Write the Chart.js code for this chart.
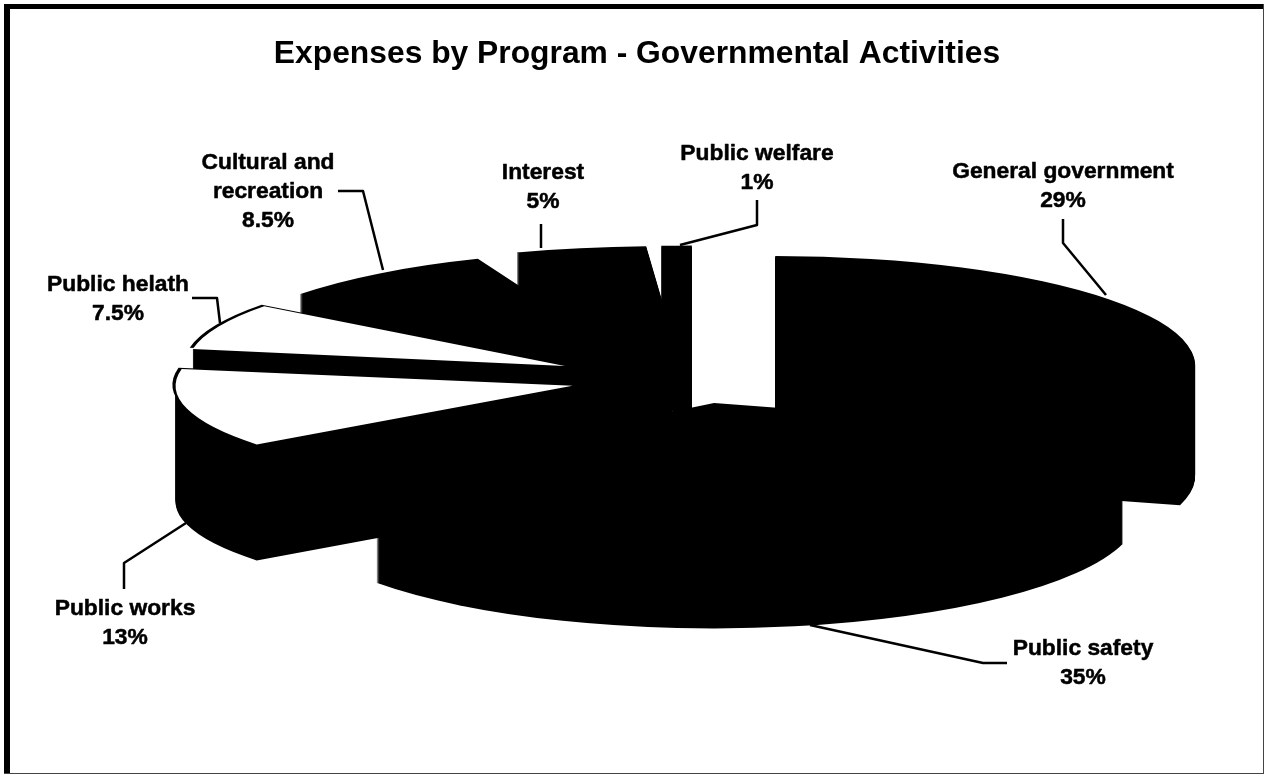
<!DOCTYPE html>
<html>
<head>
<meta charset="utf-8">
<title>Expenses by Program</title>
<style>
  html, body { margin: 0; padding: 0; background: #fff; }
  #wrap { width: 1266px; height: 775px; }
</style>
<script src="https://cdn.jsdelivr.net/npm/chart.js@4"></script>
</head>
<body>
<div id="wrap"><canvas id="chart" width="1266" height="775"></canvas></div>
<script>
const titleText = 'Expenses by Program - Governmental Activities';
const categories = ['General government', 'Public safety', 'Public works', 'Public helath', 'Cultural and recreation', 'Interest', 'Public welfare'];
const values = [29, 35, 13, 7.5, 8.5, 5, 1];
const faceColors = ['#000', '#000', '#fff', '#fff', '#000', '#000', '#000'];

// Where each slice's caption sits: line breaks, centre x, first line y
const captionLines = [['General government'], ['Public safety'], ['Public works'], ['Public helath'], ['Cultural and', 'recreation'], ['Interest'], ['Public welfare']];
const captionSpots = [[1063, 172], [1083, 649], [125, 609], [118, 285], [268, 163], [543, 173], [757, 154]];
// Leader line from caption to slice rim
const leaders = [
  [[1063, 219], [1063, 243], [1106, 295]],
  [[1007, 663], [983, 663], [810, 625]],
  [[124, 589], [124, 563], [186, 523]],
  [[192, 298], [217, 298], [220, 323]],
  [[338, 191], [363, 191], [383, 270]],
  [[541, 224], [541, 248]],
  [[757, 200], [757, 225], [680, 245]]
];

// Projection of the flat pie into a tilted, exploded disc
const DISC = { cx: 695, cy: 381, rx: 420, ry: 110 };
// Per-slice perspective adjustments, in slice order
const sliceExplode = [0.24, 0.24, 0.30, 0.338, 0.24, 0.24, 0.24];
const sliceScaleX  = [1, 1.01, 0.945, 0.9, 1, 1, 1.15];
const sliceScaleY  = [1, 1.05, 0.88, 0.9, 1, 0.83, 1];
const sliceLift    = [1, -4, -3, 0, 1, -18, 1];
const sliceDepth   = [110, 110, 116, 110, 110, 110, 125];

const LABEL_FONT = 'bold 22.8px "Liberation Sans", Arial, sans-serif';
const LINE_GAP = 29;

function drawArcProjected(ctx, arc, i, drop, grow) {
  const R = arc.outerRadius;
  const mid = (arc.startAngle + arc.endAngle) / 2;
  ctx.save();
  ctx.translate(
    DISC.cx + Math.cos(mid) * sliceExplode[i] * DISC.rx,
    DISC.cy + Math.sin(mid) * sliceExplode[i] * DISC.ry + sliceLift[i] + drop
  );
  ctx.scale(DISC.rx / R * sliceScaleX[i] * grow, DISC.ry / R * sliceScaleY[i] * grow);
  ctx.translate(-arc.x, -arc.y);
  arc.draw(ctx);
  ctx.restore();
}

const tiltedPie = {
  id: 'tiltedPie',
  beforeDatasetsDraw(chart) {
    const ctx = chart.ctx;
    const arcs = chart.getDatasetMeta(0).data.map((arc, i) => ({ arc, i }));
    // Paint rear slices first so nearer walls overlap them
    arcs.sort((a, b) => Math.sin((a.arc.startAngle + a.arc.endAngle) / 2) - Math.sin((b.arc.startAngle + b.arc.endAngle) / 2));
    arcs.forEach(({ arc, i }) => {
      const face = arc.options;
      const wall = Object.create(face);
      wall.backgroundColor = '#000';
      wall.borderColor = '#000';
      arc.options = wall;
      for (let d = sliceDepth[i]; d > 0; d--) drawArcProjected(ctx, arc, i, d, 1);
      // Dark rim line around the pale faces
      if (faceColors[i] === '#fff') drawArcProjected(ctx, arc, i, -1, 1.008);
      arc.options = face;
      drawArcProjected(ctx, arc, i, 0, 1);
    });
    return false;
  }
};

const frameAndCaptions = {
  id: 'frameAndCaptions',
  beforeDraw(chart) {
    const ctx = chart.ctx;
    ctx.save();
    ctx.fillStyle = '#fff';
    ctx.fillRect(0, 0, chart.width, chart.height);
    ctx.fillStyle = '#000';
    ctx.fillRect(4, 4, 1260, 5);
    ctx.fillRect(4, 4, 6, 770);
    ctx.fillStyle = '#444';
    ctx.fillRect(1263, 4, 1, 770);
    ctx.fillRect(4, 773, 1260, 1);
    ctx.restore();
  },
  afterDraw(chart) {
    const ctx = chart.ctx;
    ctx.save();
    ctx.fillStyle = '#000';
    ctx.strokeStyle = '#000';
    ctx.lineJoin = 'round';
    ctx.font = LABEL_FONT;
    ctx.textAlign = 'center';
    ctx.textBaseline = 'middle';
    categories.forEach((name, i) => {
      const [x, y] = captionSpots[i];
      const lines = captionLines[i].concat(values[i] + '%');
      ctx.lineWidth = 0.5;
      lines.forEach((line, k) => {
        ctx.fillText(line, x, y + k * LINE_GAP);
        ctx.strokeText(line, x, y + k * LINE_GAP);
      });
      ctx.lineWidth = 2.5;
      ctx.beginPath();
      leaders[i].forEach(([lx, ly], k) => k ? ctx.lineTo(lx, ly) : ctx.moveTo(lx, ly));
      ctx.stroke();
    });
    ctx.restore();
  }
};

new Chart(document.getElementById('chart'), {
  type: 'pie',
  data: {
    labels: categories,
    datasets: [{ data: values, backgroundColor: faceColors, borderWidth: 0 }]
  },
  options: {
    responsive: false,
    animation: false,
    layout: { padding: { left: 8 } },
    plugins: {
      legend: { display: false },
      tooltip: { enabled: false },
      title: {
        display: true,
        text: titleText,
        color: '#000',
        font: { family: '"Liberation Sans", Arial, sans-serif', size: 31.8, weight: 'bold' },
        padding: { top: 35, bottom: 10 }
      }
    }
  },
  plugins: [frameAndCaptions, tiltedPie]
});
</script>
</body>
</html>
